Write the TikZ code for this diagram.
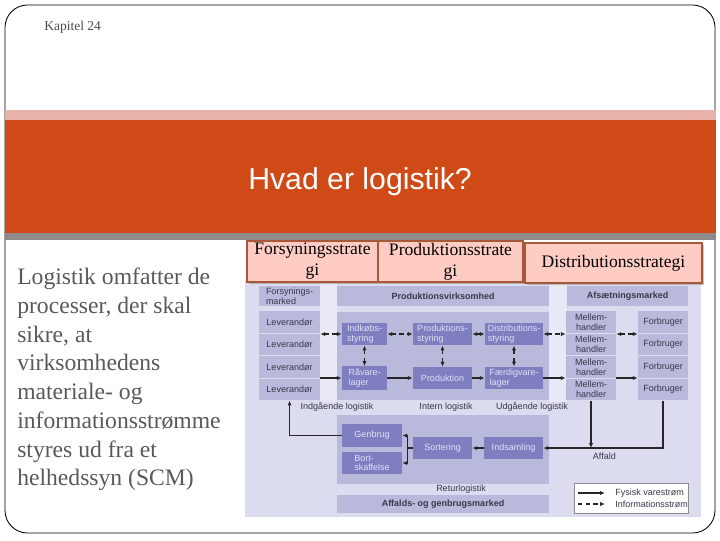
\documentclass[tikz,border=0pt]{standalone}
\usepackage{fontspec}
\setmainfont{Liberation Serif}
\setsansfont{Liberation Sans}
\usepackage{tikz}
\usetikzlibrary{arrows.meta,positioning,calc,shadows}
\definecolor{bandpink}{HTML}{E8B2AA}
\definecolor{bandred}{HTML}{D04A18}
\definecolor{bandgray}{HTML}{8E8A8A}
\definecolor{stratfill}{HTML}{FFCCC4}
\definecolor{stratdraw}{HTML}{A8583A}
\definecolor{diagbg}{HTML}{DCDCF0}
\definecolor{diagstrip}{HTML}{E8E8F6}
\definecolor{panel}{HTML}{B9B9DC}
\definecolor{darkbox}{HTML}{7E7EC0}
\definecolor{diagtext}{HTML}{38384C}
\definecolor{lighttext}{HTML}{E2E2F8}
\definecolor{bodygray}{HTML}{595959}
\newcommand{\dfont}{\sffamily\fontsize{6.4}{7}\selectfont}

\begin{document}
\begin{tikzpicture}[x=0.025cm,y=-0.025cm,
  wh/.style 2 args={minimum width=#1*0.025cm,minimum height=#2*0.025cm},
  strat/.style={rectangle,inner sep=0pt,align=center,fill=stratfill,draw=stratdraw,line width=0.8pt,
    font=\fontsize{12.5}{15}\selectfont,
    drop shadow={shadow xshift=1.2pt,shadow yshift=-1.2pt,opacity=0.45}},
  pbox/.style={rectangle,inner sep=1.5pt,fill=panel,font=\dfont,text=diagtext,align=center},
  dbox/.style={rectangle,inner sep=1.5pt,fill=darkbox,font=\dfont,text=lighttext,align=left},
  lbl/.style={font=\dfont,text=diagtext,inner sep=1pt},
  phys/.style={-{Latex[length=3.5pt,width=3pt]},line width=0.8pt,draw=black!85},
  info/.style={{Latex[length=3.5pt,width=3pt]}-{Latex[length=3.5pt,width=3pt]},line width=0.8pt,
    dash pattern=on 3pt off 2.5pt,draw=black!85},
  infoone/.style={-{Latex[length=3.5pt,width=3pt]},line width=0.8pt,
    dash pattern=on 3pt off 2.5pt,draw=black!85},
]
  \useasboundingbox (0,0) rectangle (720,540);
  % slide frame and title band
  \draw[line width=0.6pt,rounded corners=16pt] (5,5) rectangle (715,533);
  \fill[bandpink] (5,110) rectangle (716,120);
  \fill[bandred] (5,120) rectangle (716,233);
  \fill[bandgray] (5,233) rectangle (716,240);
  \node[anchor=west,inner sep=0pt,font=\fontsize{9.6}{11}\selectfont,text=black!70] (kap) at (44,27) {Kapitel 24};
  \node[font=\sffamily\fontsize{21.5}{24}\selectfont,text=white] (title) at (360,182) {Hvad er logistik?};

  % left text
  \node[anchor=north west,align=left,inner sep=0pt,text=bodygray,
    font=\fontsize{16.8}{20.4}\selectfont] (body) at (17,268)
    {Logistik omfatter de\\processer, der skal\\sikre, at\\virksomhedens\\materiale- og\\informationsstrømme\\styres ud fra et\\helhedssyn (SCM)};

  % diagram background
  \fill[diagbg] (245,280) rectangle (701,517);
  \fill[diagstrip] (320,283) rectangle (337,402);
  \fill[diagstrip] (549,283) rectangle (567,402);

  % strategy headers
  \node[strat,wh={131}{41}] (fstrat) at (312.5,261.5) {Forsyningsstrate\\gi};
  \node[strat,wh={145}{41}] (pstrat) at (450.5,261.5) {Produktionsstrate\\gi};
  \node[strat,wh={177}{40}] (dstrat) at (613.5,263) {Distributionsstrategi};

  % markets
  \node[pbox,wh={61}{20},align=left] (fmk) at (289.5,296) {Forsynings-\\marked};
  \node[pbox,wh={212}{20},font=\dfont\bfseries] (pvh) at (443,296) {Produktionsvirksomhed};
  \node[pbox,wh={121}{20},font=\dfont\bfseries] (afm) at (627.5,296) {Afsætningsmarked};
  \node[pbox,wh={212}{88}] (pvbox) at (443,356) {};
  \foreach \i/\y in {1/322,2/344.5,3/367,4/389.5}{
    \node[pbox,wh={61}{21.5}] (lev\i) at (289.5,\y) {Leverandør};
    \node[pbox,wh={50}{21.5}] (mh\i) at (591,\y) {Mellem-\\handler};
    \node[pbox,wh={50}{21.5}] (fb\i) at (663,\y) {Forbruger};
  }

  % inside the company
  \node[dbox,wh={45}{22}] (iks) at (364.5,334) {Indkøbs-\\styring};
  \node[dbox,wh={59}{22}] (pst) at (442.5,334) {Produktions-\\styring};
  \node[dbox,wh={58}{22}] (dst) at (514,334) {Distributions-\\styring};
  \node[dbox,wh={45}{22}] (rvl) at (364.5,378) {Råvare-\\lager};
  \node[dbox,wh={59}{22},align=center] (prd) at (442.5,378) {Produktion};
  \node[dbox,wh={58}{22}] (fvl) at (514,378) {Færdigvare-\\lager};

  \node[lbl] (ind) at (337,407) {Indgående logistik};
  \node[lbl] (int) at (446,407) {Intern logistik};
  \node[lbl] (udg) at (532,407) {Udgående logistik};

  % information flows
  \draw[info] (lev1.east |- iks.west) -- (iks.west);
  \draw[info] (iks.east) -- (pst.west);
  \draw[info] (pst.east) -- (dst.west);
  \draw[info] (dst.east) -- (dst.east -| mh1.west);
  \draw[info] (mh1.east |- dst.east) -- (fb1.west |- dst.east);
  \draw[info] (iks.south) -- (rvl.north);
  \draw[info] (pst.south) -- (prd.north);
  \draw[info] (dst.south) -- (fvl.north);

  % physical flows
  \draw[phys] (lev4.east |- rvl.west) -- (rvl.west);
  \draw[phys] (rvl.east) -- (prd.west);
  \draw[phys] (prd.east) -- (fvl.west);
  \draw[phys] (fvl.east) -- (fvl.east -| mh1.west);
  \draw[phys] (mh1.east |- fvl.east) -- (fb1.west |- fvl.east);

  % return logistics
  \node[pbox,wh={212}{69}] (retbox) at (443,449.5) {};
  \node[dbox,wh={60}{23},align=center] (gen) at (372,435.5) {Genbrug};
  \node[dbox,wh={60}{22}] (bort) at (372,463) {Bort-\\skaffelse};
  \node[dbox,wh={59}{22},align=center] (sort) at (442.5,448) {Sortering};
  \node[dbox,wh={59}{22},align=center] (inds) at (513.5,448) {Indsamling};
  \node[lbl] (retl) at (461,489) {Returlogistik};
  \node[pbox,wh={212}{18},font=\dfont\bfseries] (agm) at (443,504) {Affalds- og genbrugsmarked};

  \coordinate (brk) at ($(gen.east)!0.5!(sort.west)$);
  \draw[line width=0.8pt,black!85] (brk |- gen.east) -- (brk |- bort.east);
  \draw[line width=0.8pt,black!85] (sort.west) -- (sort.west -| brk);
  \draw[phys] (brk |- gen.east) -- (gen.east);
  \draw[phys] (brk |- bort.east) -- (bort.east);
  \draw[phys] (gen.west) -| (lev4.south);
  \draw[phys] (inds.west) -- (sort.east);
  \draw[phys] (fb4.south) |- (inds.east);
  \draw[phys] (mh4.south) -- (mh4.south |- inds.east) node[lbl,below right=2pt and 0pt] (aff) {Affald};

  % legend
  \node[rectangle,fill=white,draw=black!45,line width=0.5pt,wh={114}{30}] (leg) at (631,498) {};
  \coordinate (l1) at (578,493);
  \coordinate (l2) at (578,504);
  \draw[phys] (l1) -- ++(27,0) node[lbl,right=6pt,anchor=west] (lfys) {Fysisk varestrøm};
  \draw[infoone] (l2) -- ++(27,0) node[lbl,right=6pt,anchor=west] (linf) {Informationsstrøm};
\end{tikzpicture}
\end{document}
